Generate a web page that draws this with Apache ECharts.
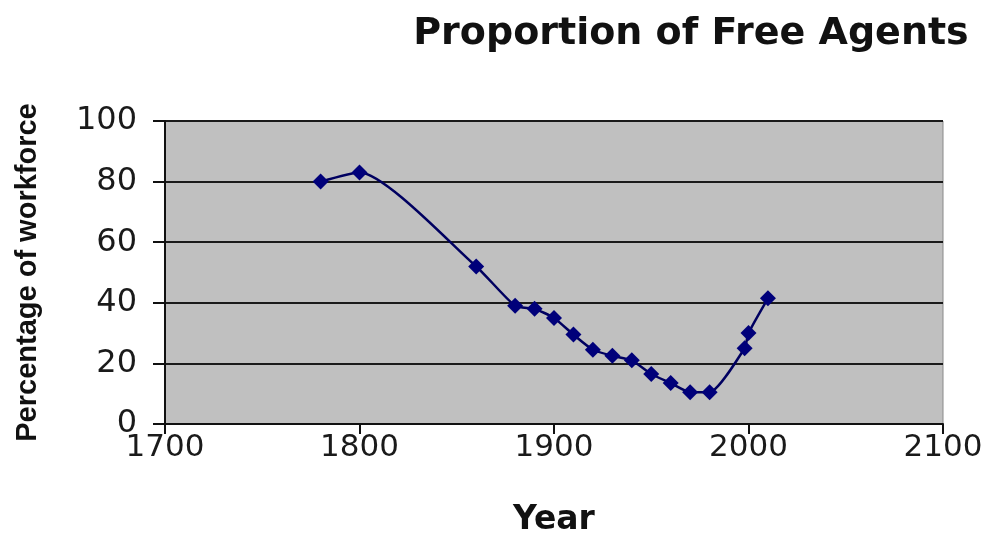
<!DOCTYPE html>
<html>
<head>
<meta charset="utf-8">
<title>Proportion of Free Agents</title>
<script src="https://cdn.jsdelivr.net/npm/echarts@6/dist/echarts.min.js"></script>
<style>
  html, body { margin: 0; padding: 0; background: #ffffff; }
  #chart { width: 991px; height: 535px; }
</style>
</head>
<body>
<div id="chart"></div>
<script>
// Share of the workforce working as free agents, by year
const years = [1780, 1800, 1860, 1880, 1890, 1900, 1910, 1920, 1930, 1940, 1950, 1960, 1970, 1980, 1998, 2000, 2010];
const percentages = [80, 83, 52, 39, 38, 35, 29.5, 24.5, 22.5, 21, 16.5, 13.5, 10.5, 10.5, 25, 30, 41.5];

const yearTicks = [1700, 1800, 1900, 2000, 2100];
const percentTicks = [0, 20, 40, 60, 80, 100];

const chartTitle = 'Proportion of Free Agents';
const xTitle = 'Year';
const yTitle = 'Percentage of workforce';

const points = years.map((y, i) => [y, percentages[i]]);

const chart = echarts.init(document.getElementById('chart'), null, { renderer: 'canvas' });

chart.setOption({
  backgroundColor: '#ffffff',
  animation: false,
  title: {
    text: chartTitle,
    left: 686,
    top: 10,
    textAlign: 'center',
    textStyle: {
      fontFamily: 'DejaVu Sans',
      fontWeight: 'bold',
      fontSize: 38,
      color: '#111111'
    }
  },
  grid: {
    left: 165,
    right: 48,
    top: 121,
    bottom: 111,
    containLabel: false,
    outerBoundsMode: 'none',
    show: true,
    backgroundColor: '#c0c0c0',
    borderColor: '#8a8a8a',
    borderWidth: 1
  },
  xAxis: {
    type: 'value',
    min: yearTicks[0],
    max: yearTicks[yearTicks.length - 1],
    interval: yearTicks[1] - yearTicks[0],
    name: xTitle,
    nameLocation: 'middle',
    nameGap: 80,
    nameTextStyle: {
      fontFamily: 'DejaVu Sans',
      fontWeight: 'bold',
      fontSize: 33,
      color: '#111111'
    },
    axisLine: { show: true, onZero: false, lineStyle: { color: '#111111', width: 2 } },
    axisTick: { show: true, length: 10, lineStyle: { color: '#111111', width: 2 } },
    axisLabel: {
      margin: 8,
      fontFamily: 'DejaVu Sans',
      fontSize: 31,
      color: '#1a1a1a',
      formatter: (v) => String(v)
    },
    splitLine: { show: false }
  },
  yAxis: {
    type: 'value',
    min: percentTicks[0],
    max: percentTicks[percentTicks.length - 1],
    interval: percentTicks[1] - percentTicks[0],
    name: yTitle,
    nameLocation: 'middle',
    nameRotate: 90,
    nameGap: 123,
    nameTextStyle: {
      fontFamily: 'Liberation Sans',
      fontWeight: 'bold',
      fontSize: 29,
      color: '#111111'
    },
    axisLine: { show: true, lineStyle: { color: '#111111', width: 2 } },
    axisTick: { show: true, length: 12, lineStyle: { color: '#111111', width: 2 } },
    axisLabel: {
      margin: 28,
      fontFamily: 'DejaVu Sans',
      fontSize: 32,
      color: '#1a1a1a'
    },
    splitLine: { show: true, lineStyle: { color: '#1a1a1a', width: 2 } }
  },
  series: [{
    type: 'line',
    data: points,
    smooth: 0.2,
    symbol: 'diamond',
    symbolSize: [16, 16],
    lineStyle: { color: '#000060', width: 2.5 },
    itemStyle: { color: '#00007a', borderColor: '#00007a', borderWidth: 0 },
    z: 5
  }]
});
</script>
</body>
</html>
